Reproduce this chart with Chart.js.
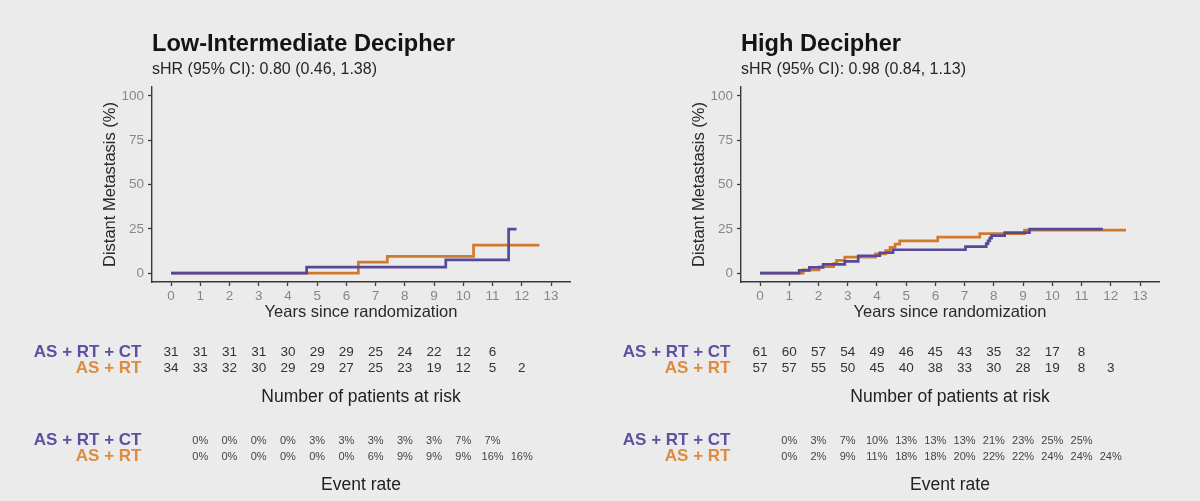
<!DOCTYPE html>
<html><head><meta charset="utf-8">
<script src="https://cdn.jsdelivr.net/npm/chart.js@4.4.0/dist/chart.umd.min.js"></script>
<style>
html,body{margin:0;padding:0;background:#ebebeb;}
#wrap{position:relative;width:1200px;height:501px;overflow:hidden;background:#ebebeb;font-family:'Liberation Sans',Arial,Helvetica,sans-serif;}
canvas{position:absolute;top:0;}
.t{position:absolute;white-space:nowrap;line-height:1;transform:translateY(-50%);}
.c{transform:translate(-50%,-50%);}
.r{transform:translate(-100%,-50%);}
</style></head><body><div id="wrap">
<canvas id="cL" width="590" height="501" style="left:0;width:590px;height:501px"></canvas>
<canvas id="cR" width="590" height="501" style="left:589px;width:590px;height:501px"></canvas>
</div>
<script>
// ---- data ----
const xTickYears = [0,1,2,3,4,5,6,7,8,9,10,11,12,13];
const yTickValues = [0,25,50,75,100];
const groupNames = ['AS + RT + CT','AS + RT'];

const lowTitle = 'Low-Intermediate Decipher';
const lowSubtitle = 'sHR (95% CI): 0.80 (0.46, 1.38)';
const lowCtTimes  = [0, 4.64, 9.40, 11.55, 11.82];
const lowCtValues = [0, 3.4, 7.5, 24.8, 24.8];
const lowRtTimes  = [0, 6.41, 7.40, 10.35, 12.60];
const lowRtValues = [0, 6.2, 9.4, 15.8, 15.8];
const lowRiskCt = [31,31,31,31,30,29,29,25,24,22,12,6];
const lowRiskRt = [34,33,32,30,29,29,27,25,23,19,12,5,2];
const lowEventCt = [0,0,0,0,3,3,3,3,3,7,7];
const lowEventRt = [0,0,0,0,0,0,6,9,9,9,16,16];

const highTitle = 'High Decipher';
const highSubtitle = 'sHR (95% CI): 0.98 (0.84, 1.13)';
const highCtTimes  = [0, 1.34, 1.69, 2.16, 2.90, 3.36, 4.10, 4.55, 7.03, 7.74, 7.80, 7.86, 7.92, 8.37, 9.22, 11.73];
const highCtValues = [0, 1.6, 3.3, 4.9, 6.6, 9.8, 11.5, 13.2, 14.9, 16.6, 18.2, 19.8, 21.2, 22.9, 24.8, 24.8];
const highRtTimes  = [0, 1.48, 2.02, 2.52, 2.62, 2.90, 3.95, 4.30, 4.45, 4.62, 4.78, 6.08, 7.52, 9.05, 12.52];
const highRtValues = [0, 1.8, 3.6, 5.4, 7.2, 9.0, 10.9, 12.7, 14.5, 16.4, 18.2, 20.3, 22.3, 24.3, 24.3];
const highRiskCt = [61,60,57,54,49,46,45,43,35,32,17,8];
const highRiskRt = [57,57,55,50,45,40,38,33,30,28,19,8,3];
const highEventCt = [0,3,7,10,13,13,13,21,23,25,25];
const highEventRt = [0,2,9,11,18,18,20,22,22,24,24,24];

// ---- styles ----
const FONT = "'Liberation Sans', Arial, Helvetica, sans-serif";
const PURPLE = '#56499a';
const ORANGE = '#d27a2c';
const PURPLE_TXT = '#5e50a1';
const ORANGE_TXT = '#dd8b3f';
const AXIS = '#3a3a3a';
const TICKTXT = '#878787';

const wrap = document.getElementById('wrap');
function addText(txt, x, y, cls, css){
  const d = document.createElement('div');
  d.className = 't ' + (cls||'');
  d.textContent = txt;
  d.style.left = x + 'px';
  d.style.top = y + 'px';
  Object.assign(d.style, css||{});
  wrap.appendChild(d);
  return d;
}
function pts(t, v){ return t.map((x,i)=>({x:x, y:v[i]})); }

const panels = [
  {id:'cL', left:0, title:lowTitle, sub:lowSubtitle, ct:pts(lowCtTimes,lowCtValues), rt:pts(lowRtTimes,lowRtValues),
   riskCt:lowRiskCt, riskRt:lowRiskRt, evCt:lowEventCt, evRt:lowEventRt},
  {id:'cR', left:589, title:highTitle, sub:highSubtitle, ct:pts(highCtTimes,highCtValues), rt:pts(highRtTimes,highRtValues),
   riskCt:highRiskCt, riskRt:highRiskRt, evCt:highEventCt, evRt:highEventRt}
];

panels.forEach(p => {
  const chart = new Chart(document.getElementById(p.id), {
    type: 'line',
    data: {
      datasets: [
        {label: groupNames[0], data: p.ct, borderColor: PURPLE, borderWidth: 2.7, stepped: 'before', pointRadius: 0, fill: false},
        {label: groupNames[1], data: p.rt, borderColor: ORANGE, borderWidth: 2.7, stepped: 'before', pointRadius: 0, fill: false}
      ]
    },
    options: {
      responsive: false, animation: false, devicePixelRatio: 1,
      layout: {padding: {left: 92, right: 20, top: 87, bottom: 171}},
      plugins: {legend: {display: false}, tooltip: {enabled: false}, title: {display: false}},
      scales: {
        x: {
          type: 'linear', min: -0.65, max: 13.65,
          afterBuildTicks: s => { s.ticks = xTickYears.map(v => ({value: v})); },
          afterFit: s => { s.height = 48; },
          border: {display: true, color: AXIS, width: 1.4},
          grid: {display: true, drawOnChartArea: false, drawTicks: true, tickLength: 4, tickColor: AXIS, tickWidth: 1.3},
          ticks: {color: TICKTXT, font: {family: FONT, size: 13.5}, padding: 2, maxRotation: 0, autoSkip: false},
          title: {display: true, text: 'Years since randomization', color: '#2a2a2a', font: {family: FONT, size: 16.5}, padding: {top: 0, bottom: 8}}
        },
        y: {
          type: 'linear', min: -5, max: 105,
          afterBuildTicks: s => { s.ticks = yTickValues.map(v => ({value: v})); },
          afterFit: s => { s.width = 60; },
          border: {display: true, color: AXIS, width: 1.4},
          grid: {display: true, drawOnChartArea: false, drawTicks: true, tickLength: 4, tickColor: AXIS, tickWidth: 1.3},
          ticks: {color: TICKTXT, font: {family: FONT, size: 13.5}, padding: 4},
          title: {display: true, text: 'Distant Metastasis (%)', color: '#2a2a2a', font: {family: FONT, size: 16.5}, padding: {top: 9, bottom: 0}}
        }
      }
    }
  });

  const xs = chart.scales.x;
  const X = v => p.left + xs.getPixelForValue(v);
  const areaL = p.left + chart.chartArea.left;
  const mid = p.left + (chart.chartArea.left + chart.chartArea.right) / 2;

  addText(p.title, areaL, 43.5, '', {fontSize: '23.6px', fontWeight: 'bold', color: '#141414'});
  addText(p.sub, areaL, 69, '', {fontSize: '16px', color: '#262626'});

  const labX = X(0) - 29.5;
  const labCss = c => ({fontSize: '17px', fontWeight: 'bold', color: c});
  // risk table
  addText(groupNames[0], labX, 350.5, 'r', labCss(PURPLE_TXT));
  addText(groupNames[1], labX, 367, 'r', labCss(ORANGE_TXT));
  p.riskCt.forEach((n,i) => addText(String(n), X(i), 351.5, 'c', {fontSize: '13.5px', color: '#333'}));
  p.riskRt.forEach((n,i) => addText(String(n), X(i), 368, 'c', {fontSize: '13.5px', color: '#333'}));
  addText('Number of patients at risk', mid, 397, 'c', {fontSize: '17.5px', color: '#222'});
  // event rate table
  addText(groupNames[0], labX, 438.5, 'r', labCss(PURPLE_TXT));
  addText(groupNames[1], labX, 454.5, 'r', labCss(ORANGE_TXT));
  p.evCt.forEach((n,i) => addText(n + '%', X(i+1), 439.5, 'c', {fontSize: '11px', color: '#444'}));
  p.evRt.forEach((n,i) => addText(n + '%', X(i+1), 455.5, 'c', {fontSize: '11px', color: '#444'}));
  addText('Event rate', mid, 485, 'c', {fontSize: '17.5px', color: '#222'});
});
</script>
</body></html>
